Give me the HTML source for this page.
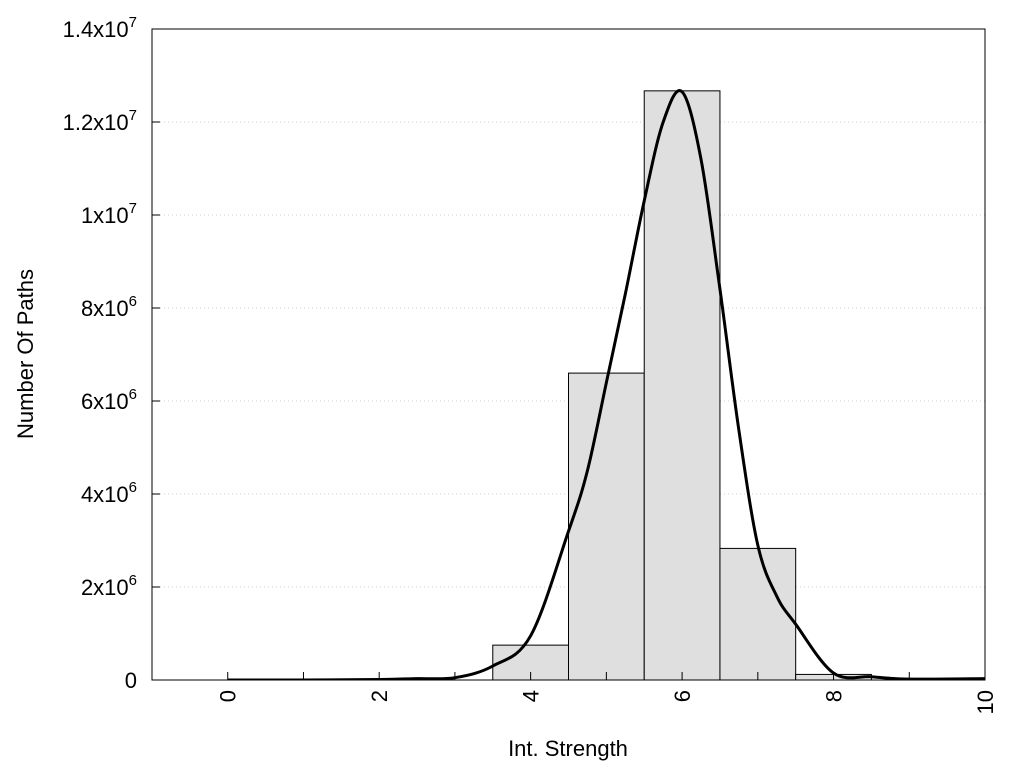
<!DOCTYPE html>
<html><head><meta charset="utf-8"><style>
html,body{margin:0;padding:0;background:#fff;overflow:hidden;}
svg{display:block;font-family:"Liberation Sans",Arial,sans-serif;}
</style></head><body>
<svg id="chart" width="1024" height="768">
<defs><clipPath id="pc"><rect x="152" y="29" width="833" height="651"/></clipPath></defs>
<g id="grid"></g>
<g id="bars" clip-path="url(#pc)"></g>
<g id="curve" clip-path="url(#pc)"></g>
<rect x="152" y="29" width="833" height="651" fill="none" stroke="#000" stroke-width="1"/>
<g id="axes"></g>
<text x="568" y="756" font-size="22" text-anchor="middle">Int. Strength</text>
<text transform="translate(33,354) rotate(-90)" font-size="22" text-anchor="middle">Number Of Paths</text>
</svg>
<script>
const barCenters=[0,1,2,3,4,5,6,7,8,9,10];
const barValues=[0,0,0,0,0.75e6,6.6e6,12.67e6,2.83e6,0.12e6,0,0];
const curveX=[0,1,2,2.5,3,3.5,4,4.5,4.75,5,5.25,5.5,5.75,6,6.25,6.5,6.75,7,7.25,7.5,8,8.5,9,10];
const curveY=[0,0,0.01e6,0.03e6,0.05e6,0.3e6,0.95e6,3.2e6,4.5e6,6.4e6,8.3e6,10.3e6,12.0e6,12.65e6,11.2e6,8.4e6,5.37e6,2.9e6,1.8e6,1.2e6,0.15e6,0.07e6,0.02e6,0.03e6];
const xTicks=[0,2,4,6,8,10];
const xMinorTicks=[1,3,5,7,9];
const yTicks=[0,2e6,4e6,6e6,8e6,1e7,1.2e7,1.4e7];
const yTickMant=["0","2","4","6","8","1","1.2","1.4"];
const yTickExp=["","6","6","6","6","7","7","7"];
const X0=152,X1=985,Y0=680,Y1=29,XMIN=-1,XMAX=10,YMAX=1.4e7;
const sx=v=>X0+(v-XMIN)/(XMAX-XMIN)*(X1-X0);
const sy=v=>Y0-v/YMAX*(Y0-Y1);
const NS="http://www.w3.org/2000/svg";
function mk(t,a,p){const e=document.createElementNS(NS,t);for(const k in a)e.setAttribute(k,a[k]);p.appendChild(e);return e;}
const grid=document.getElementById('grid'),bars=document.getElementById('bars'),curve=document.getElementById('curve'),axes=document.getElementById('axes');
yTicks.forEach((v,i)=>{
 if(v>0&&v<YMAX){const g=mk('line',{x1:X0,x2:X1,y1:sy(v),y2:sy(v),stroke:'#ccc','stroke-dasharray':'1,3'},grid);
 
 }
 const t=mk('line',{x1:X0,x2:X0+8,y1:sy(v),y2:sy(v),stroke:'#000'},axes);
 
 
 const tx=mk('text',{x:137,y:sy(v)+8,'font-size':22,'text-anchor':'end'},axes);
 
 
 if(yTickExp[i]){tx.textContent=yTickMant[i]+'x10';const s=mk('tspan',{dy:-10,'font-size':15},tx);s.textContent=yTickExp[i];}
 else tx.textContent=yTickMant[i];
});
xMinorTicks.forEach(v=>{
 const t=mk('line',{x1:sx(v),x2:sx(v),y1:Y0,y2:Y0-8,stroke:'#000'},axes);
 
 
});
xTicks.forEach(v=>{
 const t=mk('line',{x1:sx(v),x2:sx(v),y1:Y0,y2:Y0-8,stroke:'#000'},axes);
 
 
 const tx=mk('text',{transform:`translate(${sx(v)+8},${Y0+10}) rotate(-90)`,'font-size':22,'text-anchor':'end'},axes);
 
 
 tx.textContent=v;
});
barCenters.forEach((c,i)=>{
 if(barValues[i]<=0)return;
 const r=mk('rect',{x:sx(c-0.5),y:sy(barValues[i]),width:sx(c+0.5)-sx(c-0.5),height:Y0-sy(barValues[i]),fill:'#dfdfdf',stroke:'#000','stroke-width':1},bars);
 
 
});
const P=curveX.map((x,i)=>[sx(x),sy(curveY[i])]);
let d='M'+P[0][0].toFixed(1)+','+P[0][1].toFixed(1);
for(let i=0;i<P.length-1;i++){
 const p0=P[Math.max(i-1,0)],p1=P[i],p2=P[i+1],p3=P[Math.min(i+2,P.length-1)];
 const c1=[p1[0]+(p2[0]-p0[0])/6,p1[1]+(p2[1]-p0[1])/6];
 const c2=[p2[0]-(p3[0]-p1[0])/6,p2[1]-(p3[1]-p1[1])/6];
 d+=` C${c1[0].toFixed(1)},${c1[1].toFixed(1)} ${c2[0].toFixed(1)},${c2[1].toFixed(1)} ${p2[0].toFixed(1)},${p2[1].toFixed(1)}`;
}
const pl=mk('path',{d:d,fill:'none',stroke:'#000','stroke-width':3,'stroke-linejoin':'round'},curve);


</script>
</body></html>
